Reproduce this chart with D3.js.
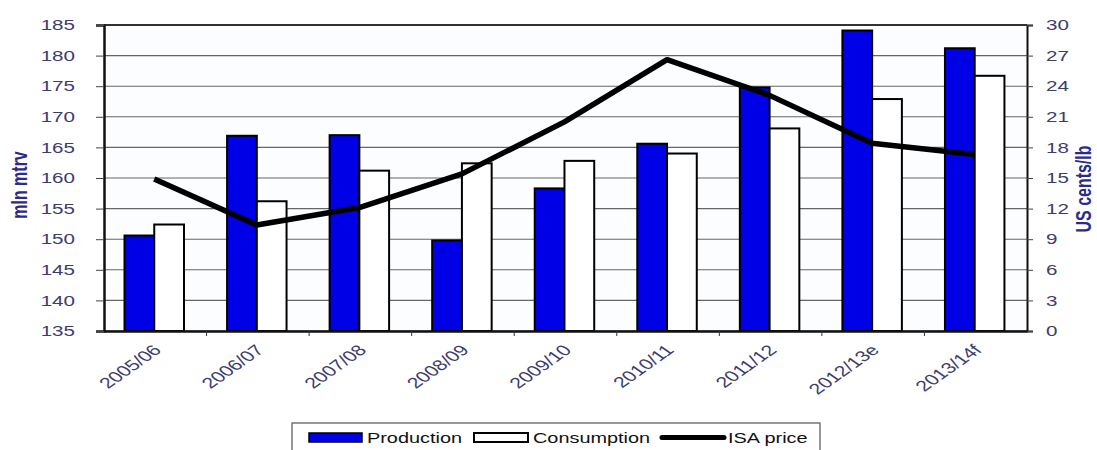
<!DOCTYPE html>
<html lang="en">
<head>
<meta charset="UTF-8">
<title>Production, consumption and ISA price</title>
<script src="https://cdn.jsdelivr.net/npm/d3@7"></script>
<style>
  body { margin: 0; background: #ffffff; }
  text { font-family: "Liberation Sans", Arial, sans-serif; }
</style>
</head>
<body>
<div id="output"></div>
<script>

var seasons = ["2005/06", "2006/07", "2007/08", "2008/09", "2009/10", "2010/11", "2011/12", "2012/13e", "2013/14f"];
var production = [150.6, 166.9, 167.0, 149.8, 158.3, 165.6, 174.8, 184.1, 181.2];
var consumption = [152.4, 156.2, 161.2, 162.4, 162.8, 164.0, 168.1, 172.9, 176.7];
var isaPrice = [14.9, 10.4, 12.1, 15.4, 20.5, 26.6, 23.1, 18.4, 17.3];
var leftTicks = [135, 140, 145, 150, 155, 160, 165, 170, 175, 180, 185];
var rightTicks = [0, 3, 6, 9, 12, 15, 18, 21, 24, 27, 30];

var w = 1097, h = 450;
var mLeft = 104, mRight = 1027, mTop = 25, mBottom = 331;
var sx = 1.42; // the picture is stretched sideways, so are its glyphs
var labelColor = "#3c3c6e";
var titleColor = "#2b2b8c";

var svg = d3.select("#output")
    .append("svg")
    .attr("width", w)
    .attr("height", h);

svg.append("rect")
    .attr("x", mLeft).attr("y", mTop)
    .attr("width", mRight - mLeft).attr("height", mBottom - mTop)
    .attr("fill", "#fbfdfe");

var x0 = d3.scaleBand().domain(seasons).range([mLeft, mRight]);
var bw = x0.bandwidth();
var x1 = d3.scaleBand().domain(["Production", "Consumption"]).range([bw * 0.2, bw * 0.78]);
var yL = d3.scaleLinear().domain([135, 185]).range([mBottom, mTop]);
var yR = d3.scaleLinear().domain([0, 30]).range([mBottom, mTop]);

function stretch(sel) {
    sel.each(function () {
        var t = d3.select(this);
        var x = +t.attr("x") || 0;
        t.attr("x", x / sx).attr("transform", "scale(" + sx + ",1)");
    });
}

// gridlines
svg.append("g").selectAll("line")
    .data(leftTicks)
    .enter().append("line")
    .attr("x1", mLeft).attr("x2", mRight)
    .attr("y1", function (d) { return yL(d); })
    .attr("y2", function (d) { return yL(d); })
    .attr("stroke", function (d) { return d === 185 ? "#333" : "#666"; })
    .attr("stroke-width", function (d) { return d === 185 ? 1.6 : 1.1; });

// left axis
var axL = svg.append("g")
    .attr("transform", "translate(" + mLeft + ",0)")
    .call(d3.axisLeft(yL).tickValues(leftTicks).tickSize(8).tickPadding(21));
axL.select(".domain").attr("stroke", "#111").attr("stroke-width", 2.5);
axL.selectAll(".tick line").attr("stroke", "#444");
axL.selectAll("text").attr("fill", labelColor).style("font-size", "14.5px").call(stretch);

// right axis
var axR = svg.append("g")
    .attr("transform", "translate(" + mRight + ",0)")
    .call(d3.axisRight(yR).tickValues(rightTicks).tickSize(6).tickPadding(13));
axR.select(".domain").attr("stroke", "#111").attr("stroke-width", 2);
axR.selectAll(".tick line").attr("stroke", "#444");
axR.selectAll("text").attr("fill", labelColor).style("font-size", "14.5px").call(stretch);

// bars
var groups = svg.append("g").selectAll("g")
    .data(seasons)
    .enter().append("g")
    .attr("transform", function (d) { return "translate(" + x0(d) + ",0)"; });

groups.append("rect")
    .attr("x", x1("Production"))
    .attr("width", x1.bandwidth())
    .attr("y", function (d, i) { return yL(production[i]); })
    .attr("height", function (d, i) { return mBottom - yL(production[i]); })
    .attr("fill", "#0000e6")
    .attr("stroke", "#000")
    .attr("stroke-width", 2);

groups.append("rect")
    .attr("x", x1("Consumption"))
    .attr("width", x1.bandwidth())
    .attr("y", function (d, i) { return yL(consumption[i]); })
    .attr("height", function (d, i) { return mBottom - yL(consumption[i]); })
    .attr("fill", "#ffffff")
    .attr("stroke", "#000")
    .attr("stroke-width", 2);

// bottom axis
var axB = svg.append("g")
    .attr("transform", "translate(0," + mBottom + ")")
    .call(d3.axisBottom(x0).tickSize(0).tickFormat(""));
axB.select(".domain").attr("stroke", "#111").attr("stroke-width", 2.5);

svg.append("g").selectAll("line")
    .data(seasons.slice(1))
    .enter().append("line")
    .attr("x1", function (d) { return x0(d); })
    .attr("x2", function (d) { return x0(d); })
    .attr("y1", mBottom).attr("y2", mBottom + 5)
    .attr("stroke", "#333");

svg.append("g").selectAll("text")
    .data(seasons)
    .enter().append("text")
    .attr("transform", function (d) {
        return "translate(" + (x0(d) + bw * 0.57) + "," + (mBottom + 20) + ") scale(" + sx + ",1) rotate(-45)";
    })
    .attr("text-anchor", "end")
    .attr("fill", labelColor)
    .style("font-size", "15px")
    .text(function (d) { return d; });

// top frame
svg.append("line")
    .attr("x1", mLeft).attr("x2", mRight)
    .attr("y1", mTop).attr("y2", mTop)
    .attr("stroke", "#222").attr("stroke-width", 1.6);

// ISA price line
var line = d3.line()
    .x(function (d, i) { return x0(seasons[i]) + x1("Consumption"); })
    .y(function (d) { return yR(d); });

svg.append("path")
    .datum(isaPrice)
    .attr("d", line)
    .attr("fill", "none")
    .attr("stroke", "#000")
    .attr("stroke-width", 5.5)
    .attr("stroke-linejoin", "round");

// axis titles
svg.append("text")
    .attr("transform", "translate(27,185) scale(" + sx + ",1) rotate(-90)")
    .attr("text-anchor", "middle")
    .attr("fill", titleColor)
    .style("font-size", "16px")
    .style("font-weight", "bold")
    .text("mln mtrv");

svg.append("text")
    .attr("transform", "translate(1091,189) scale(" + sx + ",1) rotate(-90)")
    .attr("text-anchor", "middle")
    .attr("fill", titleColor)
    .style("font-size", "16px")
    .style("font-weight", "bold")
    .text("US cents/lb");

// legend
var lg = svg.append("g");
lg.append("rect")
    .attr("x", 292).attr("y", 423)
    .attr("width", 528).attr("height", 40)
    .attr("fill", "#ffffff")
    .attr("stroke", "#777").attr("stroke-width", 1.5);

lg.append("rect")
    .attr("x", 309).attr("y", 433).attr("width", 53).attr("height", 9)
    .attr("fill", "#0000e6").attr("stroke", "#000").attr("stroke-width", 1.5);
lg.append("text").attr("x", 367).attr("y", 443).attr("fill", "#111")
    .style("font-size", "14px").text("Production").call(stretch);

lg.append("rect")
    .attr("x", 474).attr("y", 433).attr("width", 54).attr("height", 9)
    .attr("fill", "#ffffff").attr("stroke", "#000").attr("stroke-width", 2);
lg.append("text").attr("x", 533).attr("y", 443).attr("fill", "#111")
    .style("font-size", "14px").text("Consumption").call(stretch);

lg.append("line")
    .attr("x1", 662).attr("x2", 724).attr("y1", 437.5).attr("y2", 437.5)
    .attr("stroke", "#000").attr("stroke-width", 5).attr("stroke-linecap", "round");
lg.append("text").attr("x", 728).attr("y", 443).attr("fill", "#111")
    .style("font-size", "14px").text("ISA price").call(stretch);

</script>
</body>
</html>
